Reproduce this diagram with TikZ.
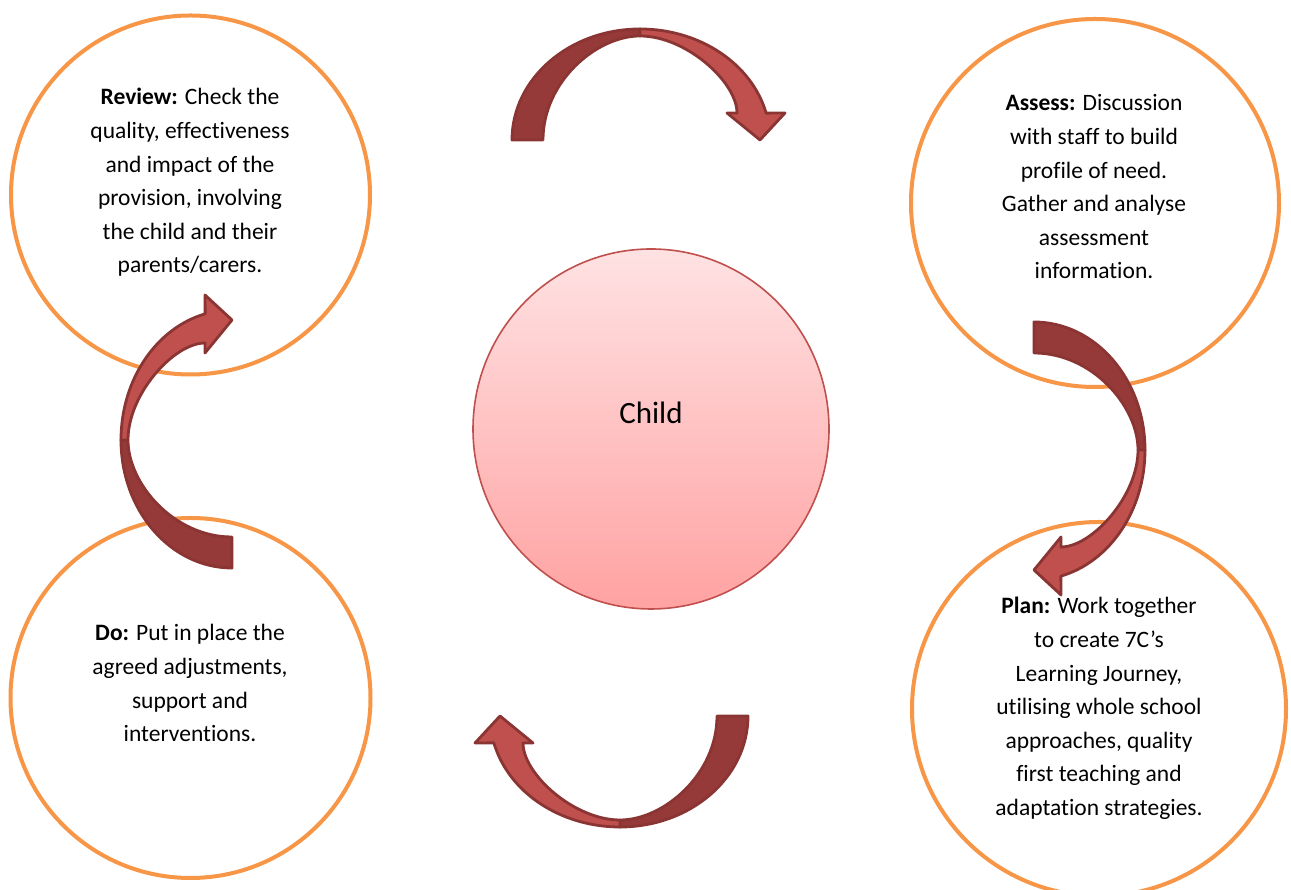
\documentclass[tikz,border=0pt]{standalone}
\usepackage{fontspec}
\setmainfont{Carlito}[Ligatures=NoCommon]
\usetikzlibrary{shapes.geometric}

\definecolor{ringorange}{HTML}{F79646}
\definecolor{childedge}{HTML}{C0504D}
\definecolor{childtop}{HTML}{FFE2E3}
\definecolor{childbottom}{HTML}{FFA2A2}
\definecolor{arrowback}{HTML}{953A38}
\definecolor{arrowfront}{HTML}{C0504D}
\definecolor{arrowedge}{HTML}{8A3533}

\tikzset{
  ring/.style={circle, draw=ringorange, line width=4pt, inner sep=0pt, fill=white},
  stagetext/.style={anchor=base, inner sep=0pt, font=\fontsize{23.5}{33.6}\selectfont},
  arrowpart/.style={draw=arrowedge, line width=2.8pt, line join=round},
  % half-turn ribbon arrow: tail on the left, bulge upwards, head on the right
  curvedarrow/.pic={
    \path[arrowpart, fill=arrowback]
      (-128,0) arc[start angle=180, end angle=90, x radius=128pt, y radius=111pt]
      -- (0,104) .. controls (-44,104) and (-97,58) .. (-97,0)
      -- cycle;
    \path[arrowpart, fill=arrowfront]
      (0,111) arc[start angle=90, end angle=14, x radius=130pt, y radius=111pt]
      -- (145,27) -- (120,0) -- (87,27) -- (97,27)
      .. controls (97,58) and (46,104) .. (0,104)
      -- cycle;
  }
}

\newcommand{\stageblock}[1]{\parbox[t]{300pt}{\centering #1}}

\begin{document}
\begin{tikzpicture}[x=1pt, y=1pt]
  \useasboundingbox (0,0) rectangle (1291,890);

  % stage rings
  \node[ring, minimum size=359pt] (review) at (190.5,695) {};
  \node[ring, minimum size=368pt] (assess) at (1095,687) {};
  \node[ring, minimum size=360pt] (do) at (190.5,192) {};
  \node[ring, minimum size=374pt] (plan) at (1099,181) {};

  % centre
  \node[ellipse, draw=childedge, line width=1.6pt, top color=childtop,
        bottom color=childbottom, minimum width=356pt, minimum height=360pt,
        inner sep=0pt] (child) at (651,461) {};
  \node[anchor=base, inner sep=0pt, font=\fontsize{31}{36}\selectfont]
        (childlabel) at (651,466) {Child};

  % stage descriptions
  \node[stagetext] (reviewtext) at (190,785) {\stageblock{%
    \textbf{Review:} Check the\\ quality, effectiveness\\ and impact of the\\
    provision, involving\\ the child and their\\ parents/carers.}};
  \node[stagetext] (assesstext) at (1094,779) {\stageblock{%
    \textbf{Assess:} Discussion\\ with staff to build\\ profile of need.\\
    Gather and analyse\\ assessment\\ information.}};
  \node[stagetext] (dotext) at (190,249) {\stageblock{%
    \textbf{Do:} Put in place the\\ agreed adjustments,\\ support and\\
    interventions.}};
  \node[stagetext] (plantext) at (1099,276) {\stageblock{%
    \textbf{Plan:} Work together\\ to create 7C’s\\ Learning Journey,\\
    utilising whole school\\ approaches, quality\\ first teaching and\\
    adaptation strategies.}};

  % cycle arrows
  \pic (arrowtop) at (640,750) {curvedarrow};
  \pic[rotate=-90] (arrowright) at (1034,440) {curvedarrow};
  \pic[rotate=180] (arrowbottom) at (620,174) {curvedarrow};
  \pic[rotate=90] (arrowleft) at (232,450) {curvedarrow};
\end{tikzpicture}
\end{document}
